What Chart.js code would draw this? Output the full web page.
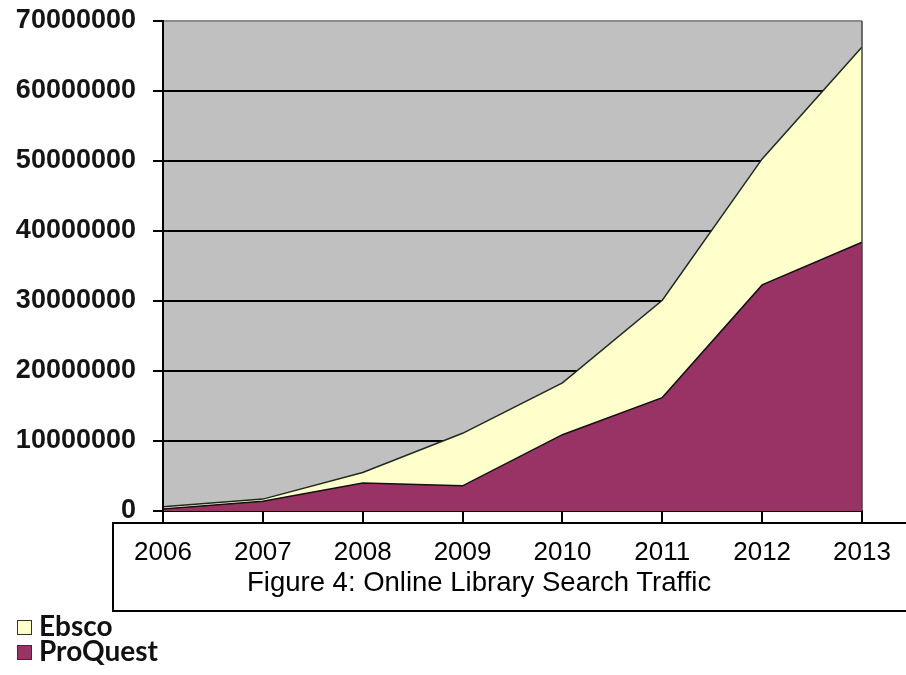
<!DOCTYPE html>
<html>
<head>
<meta charset="utf-8">
<script src="https://cdn.jsdelivr.net/npm/chart.js@4.4.1/dist/chart.umd.min.js"></script>
<style>
    html, body { margin: 0; padding: 0; background: #fff; }
    #wrap { position: relative; width: 906px; height: 675px; overflow: hidden; }
    #c { position: absolute; left: 0; top: 0; }
    #box {
        position: absolute; left: 112px; top: 522px; width: 820px; height: 86px;
        border: 2px solid #000; pointer-events: none;
    }
    #caption {
        position: absolute; left: 133px; top: 43px; white-space: nowrap;
        font: 27.5px "Liberation Sans", Arial, sans-serif; line-height: 30px; color: #000;
    }
    #legend { position: absolute; left: 17px; top: 613px; font: bold 28px Lato, sans-serif; color: #111; }
    #legend .item { height: 25px; line-height: 25px; white-space: nowrap; }
    #legend .sw {
        display: inline-block; width: 13px; height: 13px; border: 1px solid #333;
        margin-right: 7px; vertical-align: 1px;
    }
</style>
</head>
<body>
<div id="wrap">
    <canvas id="c" width="906" height="675"></canvas>
    <div id="box"><div id="caption">Figure 4: Online Library Search Traffic</div></div>
    <div id="legend"></div>
</div>
<script>
    var years = ['2006', '2007', '2008', '2009', '2010', '2011', '2012', '2013'];
    var proquest = [300000, 1400000, 4000000, 3600000, 10900000, 16200000, 32300000, 38400000];
    var ebsco = [300000, 300000, 1500000, 7500000, 7400000, 13900000, 18000000, 27900000];
    var yTicks = ['0', '10000000', '20000000', '30000000', '40000000', '50000000', '60000000', '70000000'];

    var seriesNames = ['ProQuest', 'Ebsco'];
    var seriesColors = ['#993366', '#ffffcc'];

    // legend (Ebsco listed first, as in the original)
    var legend = document.getElementById('legend');
    [1, 0].forEach(function(i){
        var item = document.createElement('div');
        item.className = 'item';
        var sw = document.createElement('span');
        sw.className = 'sw';
        sw.style.background = seriesColors[i];
        item.appendChild(sw);
        item.appendChild(document.createTextNode(seriesNames[i]));
        legend.appendChild(item);
    });

    var plotArea = {
        id: 'plotArea',
        beforeDraw: function(chart){
            var a = chart.chartArea, ctx = chart.ctx;
            ctx.save();
            ctx.fillStyle = '#c0c0c0';
            ctx.fillRect(a.left, a.top, a.right - a.left, a.bottom - a.top);
            ctx.restore();
        },
        afterDatasetsDraw: function(chart){
            var a = chart.chartArea, ctx = chart.ctx;
            ctx.save();
            ctx.strokeStyle = '#000';
            ctx.lineWidth = 2;
            ctx.beginPath();
            ctx.moveTo(a.left, a.top);
            ctx.lineTo(a.left, a.bottom + 1);
            ctx.stroke();
            ctx.strokeStyle = '#444';
            ctx.lineWidth = 1.5;
            ctx.beginPath();
            ctx.moveTo(a.right, a.top);
            ctx.lineTo(a.right, a.bottom);
            ctx.stroke();
            ctx.restore();
        }
    };

    new Chart(document.getElementById('c'), {
        type: 'line',
        data: {
            labels: years,
            datasets: [{
                label: seriesNames[0],
                data: proquest,
                backgroundColor: seriesColors[0],
                borderColor: '#111',
                borderWidth: 1.5,
                fill: 'origin',
                pointRadius: 0,
                tension: 0
            }, {
                label: seriesNames[1],
                data: ebsco,
                backgroundColor: seriesColors[1],
                borderColor: '#1f2a1f',
                borderWidth: 1.5,
                fill: '-1',
                pointRadius: 0,
                tension: 0
            }]
        },
        options: {
            responsive: false,
            animation: false,
            devicePixelRatio: 1,
            layout: { padding: { top: 21, right: 44, left: 0, bottom: 0 } },
            plugins: {
                legend: { display: false },
                tooltip: { enabled: false }
            },
            scales: {
                x: {
                    z: 1,
                    offset: false,
                    afterFit: function(scale){ scale.height = 164; },
                    grid: {
                        drawOnChartArea: false,
                        color: '#000',
                        lineWidth: 2,
                        tickLength: 12
                    },
                    border: { display: true, color: '#000', width: 2 },
                    ticks: {
                        padding: 14,
                        maxRotation: 0,
                        autoSkip: false,
                        color: '#000',
                        font: { family: '"Liberation Sans", Arial, sans-serif', size: 26 }
                    }
                },
                y: {
                    stacked: true,
                    min: 0,
                    max: 70000000,
                    afterFit: function(scale){
                        scale.width = 163;
                        scale.paddingTop = 0;
                        scale.paddingBottom = 0;
                    },
                    grid: {
                        color: function(ctx){ return ctx.tick && ctx.tick.value === 70000000 ? '#8c8c8c' : '#000'; },
                        tickColor: '#000',
                        lineWidth: 2,
                        tickLength: 10
                    },
                    border: { display: true, color: '#000', width: 2 },
                    ticks: {
                        stepSize: 10000000,
                        padding: 17,
                        color: '#151515',
                        font: { family: '"Liberation Sans", Arial, sans-serif', size: 27, weight: 'bold' },
                        callback: function(value, index){ return yTicks[index]; }
                    }
                }
            }
        },
        plugins: [plotArea]
    });
</script>
</body>
</html>
